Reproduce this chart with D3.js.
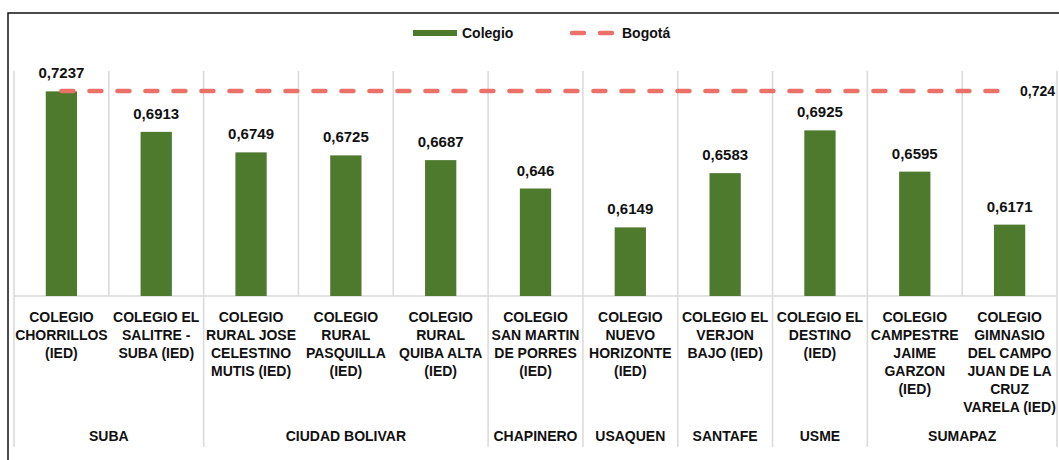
<!DOCTYPE html>
<html>
<head>
<meta charset="utf-8">
<script src="https://cdn.jsdelivr.net/npm/d3@7"></script>
<style>
  body { margin: 0; background: #fff; }
  text { font-family: "Liberation Sans", Arial, sans-serif; font-weight: bold; fill: #111; }
</style>
</head>
<body>
<div class="viz"></div>
<script>
// data
const schools = [
    "COLEGIO CHORRILLOS (IED)",
    "COLEGIO EL SALITRE - SUBA (IED)",
    "COLEGIO RURAL JOSE CELESTINO MUTIS (IED)",
    "COLEGIO RURAL PASQUILLA (IED)",
    "COLEGIO RURAL QUIBA ALTA (IED)",
    "COLEGIO SAN MARTIN DE PORRES (IED)",
    "COLEGIO NUEVO HORIZONTE (IED)",
    "COLEGIO EL VERJON BAJO (IED)",
    "COLEGIO EL DESTINO (IED)",
    "COLEGIO CAMPESTRE JAIME GARZON (IED)",
    "COLEGIO GIMNASIO DEL CAMPO JUAN DE LA CRUZ VARELA (IED)"
];
// how the tick labels wrap in the picture
const schoolLines = [
    ["COLEGIO", "CHORRILLOS", "(IED)"],
    ["COLEGIO EL", "SALITRE -", "SUBA (IED)"],
    ["COLEGIO", "RURAL JOSE", "CELESTINO", "MUTIS (IED)"],
    ["COLEGIO", "RURAL", "PASQUILLA", "(IED)"],
    ["COLEGIO", "RURAL", "QUIBA ALTA", "(IED)"],
    ["COLEGIO", "SAN MARTIN", "DE PORRES", "(IED)"],
    ["COLEGIO", "NUEVO", "HORIZONTE", "(IED)"],
    ["COLEGIO EL", "VERJON", "BAJO (IED)"],
    ["COLEGIO EL", "DESTINO", "(IED)"],
    ["COLEGIO", "CAMPESTRE", "JAIME", "GARZON", "(IED)"],
    ["COLEGIO", "GIMNASIO", "DEL CAMPO", "JUAN DE LA", "CRUZ", "VARELA (IED)"]
];
const colegio = [0.7237, 0.6913, 0.6749, 0.6725, 0.6687, 0.646, 0.6149, 0.6583, 0.6925, 0.6595, 0.6171];
const bogota = 0.724;
const districts = ["SUBA", "CIUDAD BOLIVAR", "CHAPINERO", "USAQUEN", "SANTAFE", "USME", "SUMAPAZ"];
const districtCounts = [2, 3, 1, 1, 1, 1, 2];

const fmt = (v) => String(v).replace(".", ",");

const dimensions = {
    width: 1059,
    height: 460,
    left: 14,
    right: 1057,
    top: 71,
    base: 296,
    bottom: 447
};

const svg = d3.select(".viz")
    .append("svg")
    .attr("width", dimensions.width)
    .attr("height", dimensions.height);

// frame (top and left edges only are visible)
svg.append("path")
    .attr("d", `M8,${dimensions.height} V13 H${dimensions.width}`)
    .attr("fill", "none")
    .attr("stroke", "#111")
    .attr("stroke-width", 1.5);

// scales
const xScale = d3.scaleBand()
    .domain(schools)
    .range([dimensions.left, dimensions.right]);

const yScale = d3.scaleLinear()
    .domain([0.56, 0.74])
    .range([dimensions.base, dimensions.top]);

const gridColor = "#d9d9d9";

// vertical separators in the plot area
svg.append("g")
    .selectAll("line")
    .data(d3.range(schools.length + 1))
    .join("line")
    .attr("x1", (i) => dimensions.left + i * xScale.step())
    .attr("x2", (i) => dimensions.left + i * xScale.step())
    .attr("y1", dimensions.top)
    .attr("y2", dimensions.base)
    .attr("stroke", gridColor)
    .attr("stroke-width", 1.5);

// baseline
svg.append("line")
    .attr("x1", dimensions.left).attr("x2", dimensions.right)
    .attr("y1", dimensions.base).attr("y2", dimensions.base)
    .attr("stroke", gridColor)
    .attr("stroke-width", 1.5);

// separators between district groups in the label area
const groupEdges = [0, ...d3.cumsum(districtCounts)];
svg.append("g")
    .selectAll("line")
    .data(groupEdges)
    .join("line")
    .attr("x1", (n) => dimensions.left + n * xScale.step())
    .attr("x2", (n) => dimensions.left + n * xScale.step())
    .attr("y1", dimensions.base)
    .attr("y2", dimensions.bottom)
    .attr("stroke", gridColor)
    .attr("stroke-width", 1.5);

// bars
const barW = xScale.bandwidth() * 0.33;
const cx = (i) => xScale(schools[i]) + xScale.bandwidth() / 2;

svg.append("g")
    .selectAll("rect")
    .data(colegio)
    .join("rect")
    .attr("x", (d, i) => cx(i) - barW / 2)
    .attr("y", (d) => yScale(d))
    .attr("width", barW)
    .attr("height", (d) => dimensions.base - yScale(d))
    .attr("fill", "#4e7a2d");

// value labels
svg.append("g")
    .selectAll("text")
    .data(colegio)
    .join("text")
    .attr("x", (d, i) => cx(i))
    .attr("y", (d) => yScale(d) - 13)
    .attr("text-anchor", "middle")
    .style("font-size", "15px")
    .text((d) => fmt(d));

// Bogotá line
svg.append("line")
    .attr("x1", cx(0))
    .attr("x2", cx(schools.length - 1))
    .attr("y1", yScale(bogota))
    .attr("y2", yScale(bogota))
    .attr("stroke", "#ea7168")
    .attr("stroke-width", 4.5)
    .attr("stroke-linecap", "round")
    .attr("stroke-dasharray", "12,16");

svg.append("text")
    .attr("x", 1020)
    .attr("y", yScale(bogota) + 5)
    .style("font-size", "14px")
    .text(fmt(bogota));

// category labels
const catLabels = svg.append("g")
    .selectAll("text")
    .data(schoolLines)
    .join("text")
    .attr("text-anchor", "middle")
    .style("font-size", "14px");

catLabels.selectAll("tspan")
    .data((lines, i) => lines.map((l) => ({ l, i })))
    .join("tspan")
    .attr("x", (d) => cx(d.i))
    .attr("y", (d, j) => 322 + j * 18)
    .text((d) => d.l);

// district labels
svg.append("g")
    .selectAll("text")
    .data(districts)
    .join("text")
    .attr("x", (d, k) => dimensions.left + (groupEdges[k] + districtCounts[k] / 2) * xScale.step())
    .attr("y", 441)
    .attr("text-anchor", "middle")
    .style("font-size", "14px")
    .text((d) => d);

// legend
const legend = svg.append("g");
legend.append("rect")
    .attr("x", 413).attr("y", 30)
    .attr("width", 44).attr("height", 6)
    .attr("fill", "#4e7a2d");
legend.append("text")
    .attr("x", 462).attr("y", 38)
    .style("font-size", "14px")
    .text("Colegio");
legend.append("line")
    .attr("x1", 572).attr("x2", 613)
    .attr("y1", 33).attr("y2", 33)
    .attr("stroke", "#ea7168")
    .attr("stroke-width", 4.5)
    .attr("stroke-linecap", "round")
    .attr("stroke-dasharray", "12,16");
legend.append("text")
    .attr("x", 622).attr("y", 38)
    .style("font-size", "14px")
    .text("Bogotá");
</script>
</body>
</html>
